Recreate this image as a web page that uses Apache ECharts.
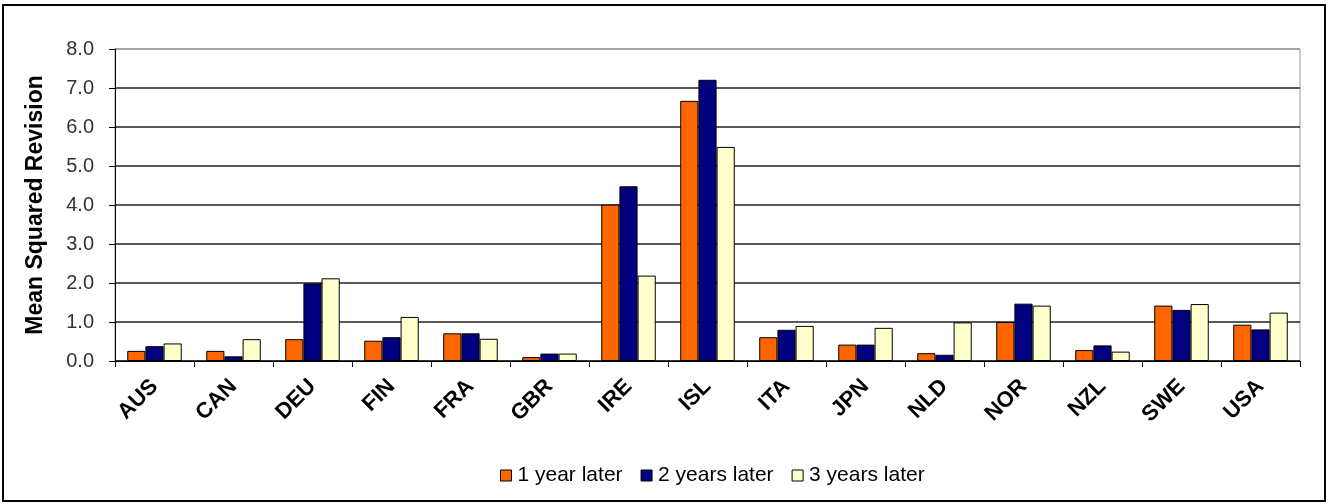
<!DOCTYPE html>
<html>
<head>
<meta charset="utf-8">
<style>
  html, body { margin: 0; padding: 0; background: #fff; }
  #chart { width: 1330px; height: 504px; }
</style>
<script src="https://cdn.jsdelivr.net/npm/echarts@6/dist/echarts.min.js"></script>
</head>
<body>
<div id="chart"></div>
<script>
// Countries on the category axis
const countries = ['AUS', 'CAN', 'DEU', 'FIN', 'FRA', 'GBR', 'IRE', 'ISL', 'ITA', 'JPN', 'NLD', 'NOR', 'NZL', 'SWE', 'USA'];

// Mean squared revision, by how long after the first estimate
const oneYearLater    = [0.26, 0.26, 0.56, 0.52, 0.71, 0.10, 4.01, 6.67, 0.61, 0.42, 0.20, 1.00, 0.28, 1.42, 0.93];
const twoYearsLater   = [0.38, 0.12, 1.99, 0.61, 0.71, 0.19, 4.48, 7.21, 0.80, 0.42, 0.16, 1.47, 0.40, 1.31, 0.81];
const threeYearsLater = [0.45, 0.56, 2.12, 1.13, 0.57, 0.19, 2.19, 5.49, 0.90, 0.85, 0.99, 1.42, 0.24, 1.46, 1.24];

const seriesNames = ['1 year later', '2 years later', '3 years later'];
const seriesColors = ['#FF6600', '#000080', '#FFFFCC'];
const seriesData = [oneYearLater, twoYearsLater, threeYearsLater];

const chart = echarts.init(document.getElementById('chart'), null, { renderer: 'canvas' });

const FONT = '"Liberation Sans", Arial, sans-serif';

chart.setOption({
  animation: false,
  backgroundColor: '#ffffff',
  graphic: [{
    // frame round the whole figure
    type: 'rect',
    shape: { x: 3, y: 5, width: 1322, height: 496 },
    style: { fill: 'none', stroke: '#000', lineWidth: 2 },
    silent: true,
    z: 100
  }],
  grid: {
    left: 115, right: 30, top: 49, bottom: 143,
    show: true, borderColor: '#999', borderWidth: 1,
    containLabel: false
  },
  legend: {
    left: 495, top: 460,
    itemWidth: 11, itemHeight: 11, itemGap: 18,
    icon: 'rect',
    textStyle: { fontFamily: FONT, fontSize: 21, color: '#000', padding: [0, 0, 0, 1] },
    data: seriesNames.map((n, i) => ({ name: n, itemStyle: { color: seriesColors[i], borderColor: '#000', borderWidth: 1 } }))
  },
  xAxis: {
    type: 'category',
    data: countries,
    axisLine: { lineStyle: { color: '#000', width: 1 } },
    axisTick: { show: true, length: 6, lineStyle: { color: '#000' } },
    axisLabel: {
      rotate: 45, margin: 22, interval: 0,
      fontFamily: FONT, fontSize: 22, fontWeight: 'bold', color: '#000'
    }
  },
  yAxis: {
    type: 'value',
    min: 0, max: 8, interval: 1,
    name: 'Mean Squared Revision',
    nameLocation: 'middle', nameGap: 68,
    nameTextStyle: { fontFamily: FONT, fontSize: 23, fontWeight: 'bold', color: '#000' },
    axisLine: { show: true, lineStyle: { color: '#000', width: 1 } },
    axisTick: { show: true, length: 6, lineStyle: { color: '#000' } },
    axisLabel: {
      margin: 21, fontFamily: FONT, fontSize: 20, color: '#333',
      formatter: v => v.toFixed(1)
    },
    splitLine: {
      show: true,
      lineStyle: { color: ['#000', '#222', '#222', '#222', '#222', '#222', '#222', '#222', '#999'], width: 1.5 }
    }
  },
  series: seriesData.map((d, i) => ({
    name: seriesNames[i],
    type: 'bar',
    data: d,
    barGap: '0%',
    barCategoryGap: '31%',
    itemStyle: { color: seriesColors[i], borderColor: '#000', borderWidth: 1 }
  }))
});
</script>
</body>
</html>
